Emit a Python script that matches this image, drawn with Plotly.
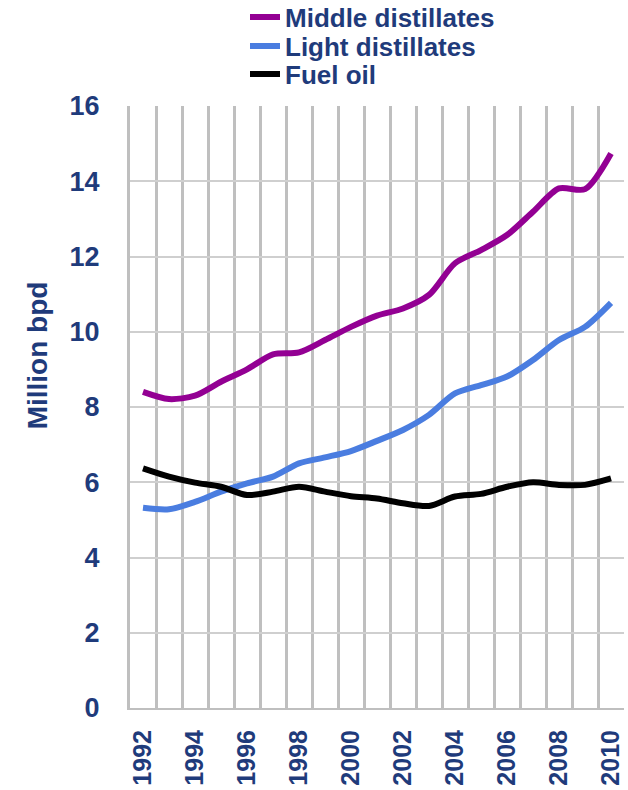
import plotly.graph_objects as go

years = list(range(1992, 2011))
middle = [8.40, 8.21, 8.30, 8.67, 9.00, 9.40, 9.45, 9.78, 10.13, 10.43, 10.62, 10.98, 11.82, 12.17, 12.57, 13.19, 13.81, 13.79, 14.74]
light = [5.32, 5.28, 5.48, 5.75, 5.97, 6.15, 6.50, 6.66, 6.83, 7.10, 7.39, 7.79, 8.36, 8.58, 8.81, 9.25, 9.78, 10.13, 10.77]
fuel = [6.37, 6.15, 5.99, 5.88, 5.66, 5.75, 5.88, 5.75, 5.63, 5.57, 5.44, 5.37, 5.62, 5.69, 5.88, 6.00, 5.93, 5.93, 6.10]
x_ticks = list(range(1992, 2011, 2))
y_ticks = list(range(0, 17, 2))

TEXT = "#1F3B7B"
FONT = "Liberation Sans, Arial, sans-serif"

fig = go.Figure()
series = [("Middle distillates", middle, "#930093", "legend"),
          ("Light distillates", light, "#4A7DE0", "legend2"),
          ("Fuel oil", fuel, "#000000", "legend3")]
for name, vals, col, lg in series:
    fig.add_trace(go.Scatter(x=years, y=vals, name=name, mode="lines", legend=lg,
                             line=dict(color=col, width=6, shape="spline", smoothing=0.8)))

def leg(ypix):
    return dict(xref="container", yref="container", x=245 / 628, y=1 - ypix / 790,
                xanchor="left", yanchor="middle",
                font=dict(size=26, color=TEXT, weight="bold", family=FONT),
                bgcolor="rgba(0,0,0,0)")

fig.update_layout(
    width=628, height=790,
    margin=dict(l=130, r=4, t=106, b=82, autoexpand=False),
    paper_bgcolor="white", plot_bgcolor="white",
    font=dict(family=FONT, color=TEXT, size=26, weight="bold"),
    legend=leg(17), legend2=leg(46), legend3=leg(74),
    showlegend=True,
)
fig.update_xaxes(
    range=[1991.5, 2010.5], tickmode="array", tickvals=x_ticks,
    ticktext=[str(v) for v in x_ticks], tickangle=-90,
    tickfont=dict(size=25, color=TEXT, weight="bold"),
    showgrid=False, ticks="", ticklabelstandoff=10,
    showline=True, linecolor="#BFBFBF", linewidth=2,
    minor=dict(tickmode="linear", tick0=1991.5, dtick=1, showgrid=True,
               gridcolor="#BFBFBF", gridwidth=3, ticks=""),
    zeroline=False,
)
fig.update_yaxes(
    range=[0, 16], tickmode="array", tickvals=y_ticks,
    tickfont=dict(size=27, color=TEXT, weight="bold"),
    showgrid=True, gridcolor="#CFCFCF", gridwidth=1.5,
    showline=True, linecolor="#BFBFBF", linewidth=3,
    ticks="", ticklabelstandoff=22, zeroline=False,
)
fig.add_annotation(text="Million bpd", textangle=-90, xref="paper", yref="paper",
                   x=-0.188, y=0.586, xanchor="center", yanchor="middle", showarrow=False,
                   font=dict(size=28, color=TEXT, weight="bold"))

fig.write_html("out.html")
